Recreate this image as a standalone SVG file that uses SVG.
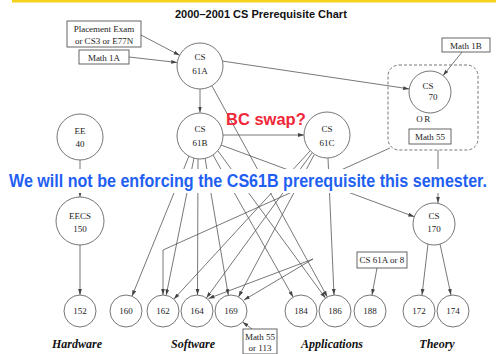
<svg xmlns="http://www.w3.org/2000/svg" width="496" height="354" viewBox="0 0 496 354">
<style>
.n{fill:#fff;stroke:#666;stroke-width:0.9}
.b{fill:#fff;stroke:#555;stroke-width:0.9}
.t{font-family:"Liberation Serif",serif;font-size:9px;fill:#222;text-anchor:middle}
.e{fill:none;stroke:#555;stroke-width:0.8}
.g{font-family:"Liberation Serif",serif;font-size:12px;font-style:italic;font-weight:bold;fill:#111;text-anchor:middle}
</style>
<defs>
<marker id="a" markerUnits="userSpaceOnUse" markerWidth="6" markerHeight="5" refX="6" refY="2.5" viewBox="0 0 6 5" orient="auto">
<path d="M0,0.6 L6,2.5 L0,4.4 z" fill="#444"/>
</marker>
</defs>
<rect width="496" height="354" fill="#fff"/>
<rect x="12" y="0" width="484" height="2.5" fill="#f6d21c"/>
<text x="175" y="18" font-family="Liberation Sans,Arial,sans-serif" font-size="11" font-weight="bold" fill="#111">2000–2001 CS Prerequisite Chart</text>

<g id="connectors" marker-end="url(#a)">
<path class="e" d="M141,35 L179.6,55.3"/>
<path class="e" d="M129,57 L177.2,62.5"/>
<path class="e" d="M222,61 L409.2,88.9"/>
<path class="e" d="M462,52 L443.1,75.6"/>
<path class="e" d="M200,89 L200,112.5"/>
<path class="e" d="M223,135 L304,135"/>
<path class="e" d="M212,86 L327.3,296.9"/>
<path class="e" d="M221,145 L414.3,216.7"/>
<path class="e" d="M438,150 L438,203"/>
<path class="e" d="M390,148 L163,250 L163,295"/>
<path class="e" d="M80,160 L80,197"/>
<path class="e" d="M80,245 L80,295"/>
<path class="e" d="M189,156 L132,296.2"/>
<path class="e" d="M194,158 L166.2,295.3"/>
<path class="e" d="M198,159 L197.5,295"/>
<path class="e" d="M205,158 L228.3,295.2"/>
<path class="e" d="M213,155 L293.1,297.1"/>
<path class="e" d="M218,151 L325.5,298.1"/>
<path class="e" d="M328,158 L334,295"/>
<path class="e" d="M310,151 L173.8,299.2"/>
<path class="e" d="M312,153 L206.4,298"/>
<path class="e" d="M314,155 L238.5,296.9"/>
<path class="e" d="M313,259 L208.5,298.5"/>
<path class="e" d="M313,259 L244,300"/>
<path class="e" d="M377,268 L372,295"/>
<path class="e" d="M428,244 L422,295"/>
<path class="e" d="M440,244 L451,295"/>
<path class="e" d="M252,329 L242.6,322"/>
</g>

<g id="placement"><rect class="b" x="67" y="21" width="74" height="26"/><text class="t" x="104" y="32">Placement Exam</text><text class="t" x="104" y="44">or CS3 or E77N</text></g>
<g id="math1a"><rect class="b" x="79" y="50" width="50" height="14"/><text class="t" x="104" y="60.5">Math 1A</text></g>
<g id="math1b"><rect class="b" x="442" y="38" width="48" height="14"/><text class="t" x="466" y="48.5">Math 1B</text></g>
<g id="cs61a"><circle class="n" cx="200" cy="66" r="23"/><text class="t" x="200" y="60">CS</text><text class="t" x="200" y="74">61A</text></g>
<g id="group70"><rect x="388" y="65" width="90" height="85" rx="11" fill="none" stroke="#666" stroke-width="0.9" stroke-dasharray="3,2"/>
<circle class="n" cx="430" cy="92" r="21"/><text class="t" x="428" y="89">CS</text><text class="t" x="433" y="100">70</text>
<text class="t" x="424" y="122" font-size="7.5" letter-spacing="1.5">OR</text>
<rect class="b" x="409" y="129" width="42" height="15"/><text class="t" x="430" y="140">Math 55</text></g>
<g id="cs61b"><circle class="n" cx="200" cy="136" r="23"/><text class="t" x="200" y="132">CS</text><text class="t" x="200" y="146">61B</text></g>
<g id="cs61c"><circle class="n" cx="327" cy="135" r="23"/><text class="t" x="327" y="132">CS</text><text class="t" x="327" y="146">61C</text></g>
<g id="ee40"><circle class="n" cx="80" cy="137" r="23"/><text class="t" x="80" y="134">EE</text><text class="t" x="80" y="147">40</text></g>
<g id="eecs150"><circle class="n" cx="80" cy="221" r="24"/><text class="t" x="80" y="219">EECS</text><text class="t" x="80" y="232">150</text></g>
<g id="cs170"><circle class="n" cx="434" cy="224" r="21"/><text class="t" x="434" y="219">CS</text><text class="t" x="434" y="232">170</text></g>
<g id="cs61aor8"><rect class="b" x="357" y="252" width="50" height="16"/><text class="t" x="382" y="263">CS 61A or 8</text></g>
<g id="math55or113"><rect class="b" x="243" y="329" width="34" height="25"/><text class="t" x="260" y="340">Math 55</text><text class="t" x="260" y="351">or 113</text></g>
<g id="c152"><circle class="n" cx="80" cy="311" r="16"/><text class="t" x="80" y="314">152</text></g>
<g id="c160"><circle class="n" cx="126" cy="311" r="16"/><text class="t" x="126" y="314">160</text></g>
<g id="c162"><circle class="n" cx="163" cy="311" r="16"/><text class="t" x="163" y="314">162</text></g>
<g id="c164"><circle class="n" cx="197" cy="311" r="16"/><text class="t" x="197" y="314">164</text></g>
<g id="c169"><circle class="n" cx="231" cy="311" r="16"/><text class="t" x="231" y="314">169</text></g>
<g id="c184"><circle class="n" cx="301" cy="311" r="16"/><text class="t" x="301" y="314">184</text></g>
<g id="c186"><circle class="n" cx="335" cy="311" r="16"/><text class="t" x="335" y="314">186</text></g>
<g id="c188"><circle class="n" cx="370" cy="311" r="16"/><text class="t" x="370" y="314">188</text></g>
<g id="c172"><circle class="n" cx="419" cy="311" r="16"/><text class="t" x="419" y="314">172</text></g>
<g id="c174"><circle class="n" cx="453" cy="311" r="16"/><text class="t" x="453" y="314">174</text></g>

<text class="g" x="77" y="348">Hardware</text>
<text class="g" x="193" y="348">Software</text>
<text class="g" x="332" y="348">Applications</text>
<text class="g" x="437" y="348">Theory</text>

<rect x="0" y="169" width="496" height="24" fill="#fff"/>
<text transform="translate(9,187) scale(1,1.12)" x="0" y="0" font-family="Liberation Sans,Arial,sans-serif" font-size="16.1" font-weight="bold" fill="#1f5ff2">We will not be enforcing the CS61B prerequisite this semester.</text>
<text x="226" y="125" font-family="Liberation Sans,Arial,sans-serif" font-size="16.5" font-weight="bold" fill="#f0283a">BC swap?</text>
</svg>
